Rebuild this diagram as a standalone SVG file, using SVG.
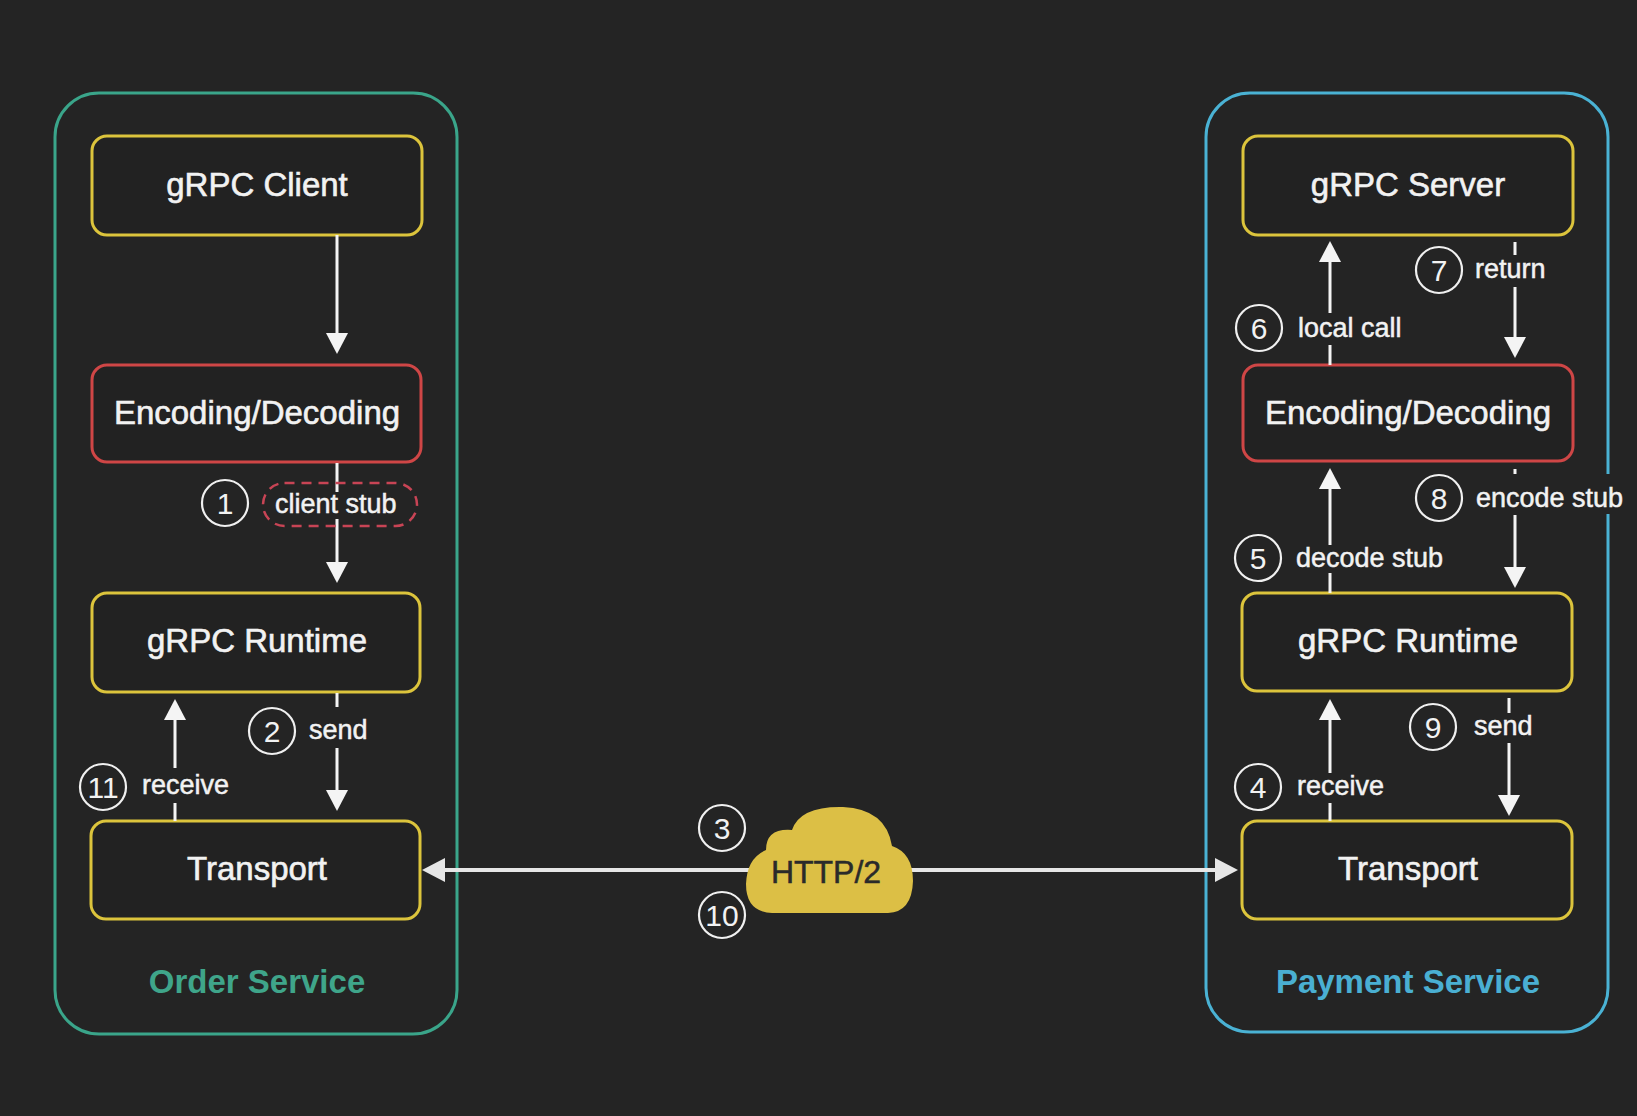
<svg xmlns="http://www.w3.org/2000/svg" width="1637" height="1116" viewBox="0 0 1637 1116">
<defs>
<style>
.bg{fill:#242424}
.outer{fill:none;stroke-width:3}
.node{fill:#222222;stroke-width:3}
.yel{stroke:#dcc43c}
.red{stroke:#cf4646}
.nt{font-family:"Liberation Sans",Arial,sans-serif;font-size:33px;fill:#f2f2f2;stroke:#f2f2f2;stroke-width:0.6;text-anchor:middle}
.lbl{font-family:"Liberation Sans",Arial,sans-serif;font-size:27px;fill:#f2f2f2;stroke:#f2f2f2;stroke-width:0.5}
.num{font-family:"Liberation Sans",Arial,sans-serif;font-size:30px;fill:#f2f2f2;text-anchor:middle}
.circ{fill:none;stroke:#f0f0f0;stroke-width:2.2}
.title{font-family:"Liberation Sans",Arial,sans-serif;font-size:33px;font-weight:bold;text-anchor:middle}
.ln{stroke:#f4f4f4;stroke-width:3;fill:none}
.arr{stroke:#f4f4f4;stroke-width:3;fill:none;marker-end:url(#ah)}
</style>
<marker id="ah" markerUnits="userSpaceOnUse" markerWidth="22" markerHeight="22" refX="10" refY="11" orient="auto" viewBox="0 0 22 22">
<path d="M0,0 L21,11 L0,22 Z" fill="#f4f4f4"/>
</marker>
<marker id="ah2" markerUnits="userSpaceOnUse" markerWidth="24" markerHeight="24" refX="13" refY="12" orient="auto-start-reverse" viewBox="0 0 24 24">
<path d="M0,0 L23,12 L0,24 Z" fill="#e6e6e6"/>
</marker>
</defs>
<rect class="bg" x="0" y="0" width="1637" height="1116"/>

<g id="order-service">
<rect class="outer" x="55" y="93" width="402" height="941" rx="44" stroke="#3aa58a"/>
<text class="title" x="257" y="993" fill="#3fa58a">Order Service</text>
</g>
<g id="payment-service">
<rect class="outer" x="1206" y="93" width="402" height="939" rx="44" stroke="#4ab2d4"/>
<text class="title" x="1408" y="993" fill="#4aafd2">Payment Service</text>
</g>

<g id="grpc-client">
<rect class="node yel" x="92" y="136" width="330" height="99" rx="15"/>
<text class="nt" x="257" y="196">gRPC Client</text>
</g>
<g id="enc-left">
<rect class="node red" x="92" y="365" width="329" height="97" rx="15"/>
<text class="nt" x="257" y="424">Encoding/Decoding</text>
</g>
<g id="runtime-left">
<rect class="node yel" x="92" y="593" width="328" height="99" rx="15"/>
<text class="nt" x="257" y="652">gRPC Runtime</text>
</g>
<g id="transport-left">
<rect class="node yel" x="91" y="821" width="329" height="98" rx="15"/>
<text class="nt" x="257" y="880">Transport</text>
</g>

<g id="grpc-server">
<rect class="node yel" x="1243" y="136" width="330" height="99" rx="15"/>
<text class="nt" x="1408" y="196">gRPC Server</text>
</g>
<g id="enc-right">
<rect class="node red" x="1243" y="365" width="330" height="96" rx="15"/>
<text class="nt" x="1408" y="424">Encoding/Decoding</text>
</g>
<g id="runtime-right">
<rect class="node yel" x="1242" y="593" width="330" height="98" rx="15"/>
<text class="nt" x="1408" y="652">gRPC Runtime</text>
</g>
<g id="transport-right">
<rect class="node yel" x="1242" y="821" width="330" height="98" rx="15"/>
<text class="nt" x="1408" y="880">Transport</text>
</g>

<g id="connectors">
<line class="arr" x1="337" y1="235" x2="337" y2="343"/>
<line class="ln" x1="337" y1="463" x2="337" y2="492"/>
<line class="arr" x1="337" y1="519" x2="337" y2="572"/>
<line class="ln" x1="337" y1="693" x2="337" y2="707"/>
<line class="arr" x1="337" y1="748" x2="337" y2="800"/>
<line class="arr" x1="175" y1="768" x2="175" y2="710"/>
<line class="ln" x1="175" y1="803" x2="175" y2="821"/>
<line class="arr" x1="1330" y1="313" x2="1330" y2="252"/>
<line class="ln" x1="1330" y1="345" x2="1330" y2="365"/>
<line class="ln" x1="1515" y1="242" x2="1515" y2="255"/>
<line class="arr" x1="1515" y1="287" x2="1515" y2="347"/>
<line class="arr" x1="1330" y1="545" x2="1330" y2="479"/>
<line class="ln" x1="1330" y1="573" x2="1330" y2="593"/>
<line class="ln" x1="1515" y1="469" x2="1515" y2="485"/>
<line class="arr" x1="1515" y1="515" x2="1515" y2="577"/>
<line class="arr" x1="1330" y1="773" x2="1330" y2="710"/>
<line class="ln" x1="1330" y1="803" x2="1330" y2="821"/>
<line class="ln" x1="1509" y1="698" x2="1509" y2="713"/>
<line class="arr" x1="1509" y1="743" x2="1509" y2="805"/>
<line x1="432" y1="870" x2="1228" y2="870" stroke="#e6e6e6" stroke-width="4" marker-start="url(#ah2)" marker-end="url(#ah2)"/>
</g>

<g id="http2">
<path d="M772,913 Q746,912 746,884 Q747,858 766,850 Q766,828 792,830 Q800,806 843,807 Q886,809 892,846 Q913,853 913,881 Q912,912 888,913 Z" fill="#dcbf45"/>
<text x="826" y="883" font-family="Liberation Sans,Arial,sans-serif" font-size="32" fill="#2a2a2a" stroke="#2a2a2a" stroke-width="0.5" text-anchor="middle">HTTP/2</text>
</g>

<g id="labels">
<rect x="263" y="483" width="154" height="43" rx="21.5" fill="none" stroke="#c84455" stroke-width="2.5" stroke-dasharray="10 7"/>
<circle class="circ" cx="225" cy="503" r="23"/><text class="num" x="225" y="514">1</text>
<text class="lbl" x="275" y="513">client stub</text>
<circle class="circ" cx="272" cy="731" r="23"/><text class="num" x="272" y="742">2</text>
<text class="lbl" x="309" y="739">send</text>
<circle class="circ" cx="103" cy="787" r="23"/><text class="num" x="103" y="798">11</text>
<text class="lbl" x="142" y="794">receive</text>
<circle class="circ" cx="722" cy="828" r="23"/><text class="num" x="722" y="839">3</text>
<circle class="circ" cx="722" cy="915" r="23"/><text class="num" x="722" y="926">10</text>
<circle class="circ" cx="1439" cy="270" r="23"/><text class="num" x="1439" y="281">7</text>
<text class="lbl" x="1475" y="278">return</text>
<circle class="circ" cx="1259" cy="328" r="23"/><text class="num" x="1259" y="339">6</text>
<text class="lbl" x="1298" y="337">local call</text>
<rect x="1470" y="474" width="160" height="40" fill="#242424"/>
<circle class="circ" cx="1439" cy="498" r="23"/><text class="num" x="1439" y="509">8</text>
<text class="lbl" x="1476" y="507">encode stub</text>
<circle class="circ" cx="1258" cy="558" r="23"/><text class="num" x="1258" y="569">5</text>
<text class="lbl" x="1296" y="567">decode stub</text>
<circle class="circ" cx="1433" cy="727" r="23"/><text class="num" x="1433" y="738">9</text>
<text class="lbl" x="1474" y="735">send</text>
<circle class="circ" cx="1258" cy="787" r="23"/><text class="num" x="1258" y="798">4</text>
<text class="lbl" x="1297" y="795">receive</text>
</g>
</svg>
